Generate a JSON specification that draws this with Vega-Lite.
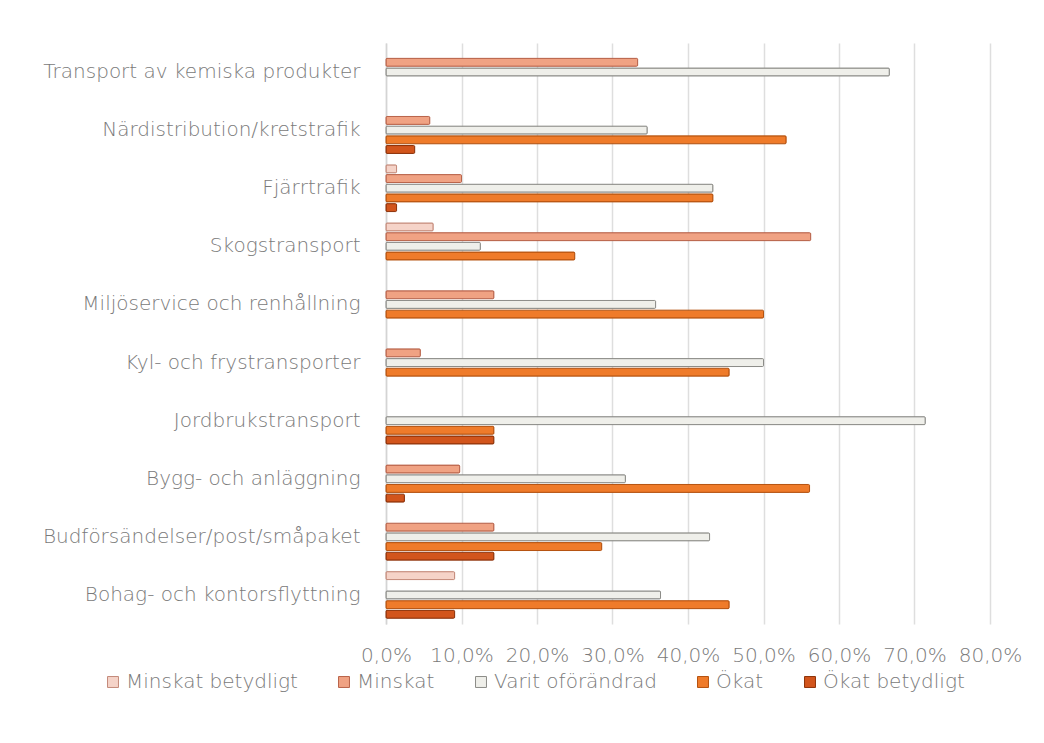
{
  "$schema": "https://vega.github.io/schema/vega-lite/v6.json",
  "width": 604,
  "height": 581,
  "autosize": {"type": "none"},
  "padding": {"left": 386, "top": 43, "right": 54, "bottom": 119},
  "background": "white",
  "config": {
    "locale": {"number": {"decimal": ",", "thousands": " ", "grouping": [3], "currency": ["", " kr"]}},
    "font": "DejaVu Sans",
    "view": {"stroke": null}
  },
  "data": {
    "values": [
      {"kategori": "Transport av kemiska produkter", "serie": "Minskat", "andel": 0.3333},
      {"kategori": "Transport av kemiska produkter", "serie": "Varit oförändrad", "andel": 0.6667},
      {"kategori": "Närdistribution/kretstrafik", "serie": "Minskat", "andel": 0.058},
      {"kategori": "Närdistribution/kretstrafik", "serie": "Varit oförändrad", "andel": 0.346},
      {"kategori": "Närdistribution/kretstrafik", "serie": "Ökat", "andel": 0.53},
      {"kategori": "Närdistribution/kretstrafik", "serie": "Ökat betydligt", "andel": 0.038},
      {"kategori": "Fjärrtrafik", "serie": "Minskat betydligt", "andel": 0.014},
      {"kategori": "Fjärrtrafik", "serie": "Minskat", "andel": 0.1},
      {"kategori": "Fjärrtrafik", "serie": "Varit oförändrad", "andel": 0.433},
      {"kategori": "Fjärrtrafik", "serie": "Ökat", "andel": 0.433},
      {"kategori": "Fjärrtrafik", "serie": "Ökat betydligt", "andel": 0.014},
      {"kategori": "Skogstransport", "serie": "Minskat betydligt", "andel": 0.0625},
      {"kategori": "Skogstransport", "serie": "Minskat", "andel": 0.5625},
      {"kategori": "Skogstransport", "serie": "Varit oförändrad", "andel": 0.125},
      {"kategori": "Skogstransport", "serie": "Ökat", "andel": 0.25},
      {"kategori": "Miljöservice och renhållning", "serie": "Minskat", "andel": 0.1429},
      {"kategori": "Miljöservice och renhållning", "serie": "Varit oförändrad", "andel": 0.3571},
      {"kategori": "Miljöservice och renhållning", "serie": "Ökat", "andel": 0.5},
      {"kategori": "Kyl- och frystransporter", "serie": "Minskat", "andel": 0.0455},
      {"kategori": "Kyl- och frystransporter", "serie": "Varit oförändrad", "andel": 0.5},
      {"kategori": "Kyl- och frystransporter", "serie": "Ökat", "andel": 0.4545},
      {"kategori": "Jordbrukstransport", "serie": "Varit oförändrad", "andel": 0.7143},
      {"kategori": "Jordbrukstransport", "serie": "Ökat", "andel": 0.1429},
      {"kategori": "Jordbrukstransport", "serie": "Ökat betydligt", "andel": 0.1429},
      {"kategori": "Bygg- och anläggning", "serie": "Minskat", "andel": 0.0976},
      {"kategori": "Bygg- och anläggning", "serie": "Varit oförändrad", "andel": 0.3171},
      {"kategori": "Bygg- och anläggning", "serie": "Ökat", "andel": 0.561},
      {"kategori": "Bygg- och anläggning", "serie": "Ökat betydligt", "andel": 0.0244},
      {"kategori": "Budförsändelser/post/småpaket", "serie": "Minskat", "andel": 0.1429},
      {"kategori": "Budförsändelser/post/småpaket", "serie": "Varit oförändrad", "andel": 0.4286},
      {"kategori": "Budförsändelser/post/småpaket", "serie": "Ökat", "andel": 0.2857},
      {"kategori": "Budförsändelser/post/småpaket", "serie": "Ökat betydligt", "andel": 0.1429},
      {"kategori": "Bohag- och kontorsflyttning", "serie": "Minskat betydligt", "andel": 0.0909},
      {"kategori": "Bohag- och kontorsflyttning", "serie": "Varit oförändrad", "andel": 0.3636},
      {"kategori": "Bohag- och kontorsflyttning", "serie": "Ökat", "andel": 0.4545},
      {"kategori": "Bohag- och kontorsflyttning", "serie": "Ökat betydligt", "andel": 0.0909}
    ]
  },
  "mark": {"type": "bar", "strokeWidth": 1, "cornerRadius": 1},
  "encoding": {
    "y": {
      "field": "kategori",
      "type": "nominal",
      "sort": ["Transport av kemiska produkter", "Närdistribution/kretstrafik", "Fjärrtrafik", "Skogstransport", "Miljöservice och renhållning", "Kyl- och frystransporter", "Jordbrukstransport", "Bygg- och anläggning", "Budförsändelser/post/småpaket", "Bohag- och kontorsflyttning"],
      "scale": {"paddingInner": 0.167, "paddingOuter": 0.083},
      "axis": {
        "title": null,
        "ticks": false,
        "domain": true,
        "domainColor": "#d4d4d4",
        "domainWidth": 1.5,
        "labelColor": "#7a7a7a",
        "labelFontSize": 20,
        "labelFontWeight": 200,
        "labelPadding": 26,
        "labelLimit": 400
      }
    },
    "yOffset": {
      "field": "serie",
      "type": "nominal",
      "sort": ["Minskat betydligt", "Minskat", "Varit oförändrad", "Ökat", "Ökat betydligt"],
      "scale": {"domain": ["Minskat betydligt", "Minskat", "Varit oförändrad", "Ökat", "Ökat betydligt"], "paddingInner": 0.18, "paddingOuter": 0.09}
    },
    "x": {
      "field": "andel",
      "type": "quantitative",
      "scale": {"domain": [0, 0.8], "nice": false},
      "axis": {
        "title": null,
        "format": ".1%",
        "values": [0, 0.1, 0.2, 0.3, 0.4, 0.5, 0.6, 0.7, 0.8],
        "ticks": false,
        "domain": false,
        "grid": true,
        "gridColor": "#dedede",
        "gridWidth": 1.5,
        "labelColor": "#7a7a7a",
        "labelFontSize": 20,
        "labelFontWeight": 200,
        "labelPadding": 21,
        "labelFlush": false
      }
    },
    "color": {
      "field": "serie",
      "type": "nominal",
      "sort": ["Minskat betydligt", "Minskat", "Varit oförändrad", "Ökat", "Ökat betydligt"],
      "scale": {
        "domain": ["Minskat betydligt", "Minskat", "Varit oförändrad", "Ökat", "Ökat betydligt"],
        "range": ["#f5d3c8", "#f0a283", "#efefea", "#ef7b2a", "#d2551c"]
      },
      "legend": {
        "title": null,
        "orient": "none",
        "direction": "horizontal",
        "legendX": -283,
        "legendY": 629,
        "symbolType": "square",
        "symbolSize": 120,
        "symbolStrokeWidth": 1,
        "labelColor": "#7a7a7a",
        "labelFontSize": 20,
        "labelFontWeight": 200,
        "labelOffset": 3,
        "labelLimit": 400,
        "columnPadding": 36
      }
    },
    "stroke": {
      "field": "serie",
      "type": "nominal",
      "scale": {
        "domain": ["Minskat betydligt", "Minskat", "Varit oförändrad", "Ökat", "Ökat betydligt"],
        "range": ["#c48a7a", "#b9634a", "#8c8c88", "#b5520f", "#8e330a"]
      },
      "legend": null
    }
  }
}
